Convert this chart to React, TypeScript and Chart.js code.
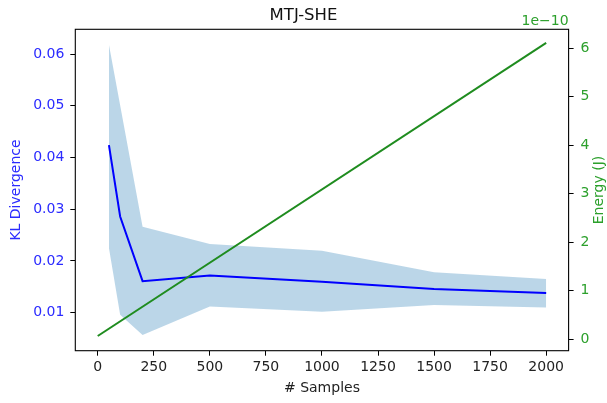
import React, { useEffect, useRef } from "react";
import { Chart, registerables } from "chart.js";

Chart.register(...registerables);

const samples = [50, 100, 200, 500, 1000, 1500, 2000];
const klMean = [0.0424, 0.0286, 0.0161, 0.0172, 0.016, 0.0146, 0.0138];
const klUpper = [0.0618, 0.0501, 0.0266, 0.0233, 0.022, 0.0178, 0.0165];
const klLower = [0.0225, 0.0096, 0.0057, 0.0112, 0.0102, 0.0115, 0.011];

const energySamples = [0, 2000];
const energyJ = [0.068e-10, 6.11e-10];

const xTicks = [0, 250, 500, 750, 1000, 1250, 1500, 1750, 2000];
const klTicks = [0.01, 0.02, 0.03, 0.04, 0.05, 0.06];
const energyTicks = [0, 1e-10, 2e-10, 3e-10, 4e-10, 5e-10, 6e-10];

const FONT = "'DejaVu Sans', sans-serif";
const BLUE = "#0000ff";
const BLUE_TXT = "#2b2bff";
const GREEN_LINE = "#1f8c1f";
const GREEN_TXT = "#2ca02c";

const framePlugin = {
  id: "frame",
  afterDraw(chart: any) {
    const { ctx, chartArea } = chart;
    ctx.save();
    ctx.strokeStyle = "#000";
    ctx.lineWidth = 1.1;
    ctx.strokeRect(chartArea.left, chartArea.top, chartArea.right - chartArea.left, chartArea.bottom - chartArea.top);
    ctx.fillStyle = GREEN_TXT;
    ctx.font = `14px ${FONT}`;
    ctx.textAlign = "right";
    ctx.textBaseline = "alphabetic";
    ctx.fillText("1e\u221210", chartArea.right, 25);
    ctx.translate(599, (chartArea.top + chartArea.bottom) / 2);
    ctx.rotate(-Math.PI / 2);
    ctx.textAlign = "center";
    ctx.textBaseline = "middle";
    ctx.fillText("Energy (J)", 0, 0);
    ctx.restore();
  },
};

export default function App() {
  const ref = useRef<HTMLCanvasElement | null>(null);
  useEffect(() => {
    if (!ref.current) return;
    const tickGrid = {
      display: true,
      drawOnChartArea: false,
      drawTicks: true,
      tickLength: 5,
      tickColor: "#000",
      tickWidth: 1,
    };
    const chart = new Chart(ref.current, {
      type: "line",
      data: {
        datasets: [
          {
            label: "upper",
            data: samples.map((x, i) => ({ x, y: klUpper[i] })),
            borderWidth: 0,
            borderColor: "rgba(0,0,0,0)",
            pointRadius: 0,
            fill: false,
            yAxisID: "y",
            order: 3,
          },
          {
            label: "lower",
            data: samples.map((x, i) => ({ x, y: klLower[i] })),
            borderWidth: 0,
            borderColor: "rgba(0,0,0,0)",
            backgroundColor: "rgba(31,119,180,0.3)",
            pointRadius: 0,
            fill: "-1",
            yAxisID: "y",
            order: 2,
          },
          {
            label: "KL",
            data: samples.map((x, i) => ({ x, y: klMean[i] })),
            borderWidth: 2,
            borderColor: BLUE,
            pointRadius: 0,
            fill: false,
            yAxisID: "y",
            order: 1,
          },
          {
            label: "Energy",
            data: energySamples.map((x, i) => ({ x, y: energyJ[i] })),
            borderWidth: 2,
            borderColor: GREEN_LINE,
            pointRadius: 0,
            fill: false,
            yAxisID: "y2",
            order: 0,
          },
        ],
      },
      options: {
        responsive: false,
        animation: false,
        devicePixelRatio: 1,
        layout: { padding: 0 },
        elements: { line: { tension: 0 } },
        plugins: {
          legend: { display: false },
          tooltip: { enabled: false },
          title: {
            display: true,
            text: "MTJ-SHE",
            color: "#111",
            font: { family: FONT, size: 16.5, weight: "normal", lineHeight: 1.2 },
            padding: { top: 6, bottom: 3.5 },
          },
        },
        scales: {
          x: {
            type: "linear",
            position: "bottom",
            min: -100,
            max: 2100,
            afterBuildTicks: (s: any) => {
              s.ticks = xTicks.map((v) => ({ value: v }));
            },
            afterFit: (s: any) => {
              s.height = 52.3;
            },
            grid: tickGrid,
            border: { display: false },
            ticks: {
              color: "#222",
              font: { family: FONT, size: 14 },
              padding: 3,
              maxRotation: 0,
              autoSkip: false,
              callback: (v: any) => String(v),
            },
            title: {
              display: true,
              text: "# Samples",
              color: "#222",
              font: { family: FONT, size: 14, lineHeight: 1.2 },
              padding: { top: 0, bottom: 6.6 },
            },
          },
          y: {
            type: "linear",
            position: "left",
            min: 0.00265,
            max: 0.0648,
            afterBuildTicks: (s: any) => {
              s.ticks = klTicks.map((v) => ({ value: v }));
            },
            afterFit: (s: any) => {
              s.width = 75.3;
            },
            grid: tickGrid,
            border: { display: false },
            ticks: {
              color: BLUE_TXT,
              font: { family: FONT, size: 14 },
              padding: 6,
              autoSkip: false,
              callback: (v: any) => Number(v).toFixed(2),
            },
            title: {
              display: true,
              text: "KL Divergence",
              color: BLUE_TXT,
              font: { family: FONT, size: 14, lineHeight: 1.2 },
              padding: { top: 7.6, bottom: 0 },
            },
          },
          y2: {
            type: "linear",
            position: "right",
            min: -0.235e-10,
            max: 6.39e-10,
            afterBuildTicks: (s: any) => {
              s.ticks = energyTicks.map((v) => ({ value: v }));
            },
            afterFit: (s: any) => {
              s.width = 38.4;
            },
            grid: tickGrid,
            border: { display: false },
            ticks: {
              color: GREEN_TXT,
              font: { family: FONT, size: 14 },
              padding: 7,
              autoSkip: false,
              callback: (v: any) => String(Math.round(Number(v) * 1e10)),
            },
            title: { display: false },
          },
        },
      },
      plugins: [framePlugin],
    } as any);
    return () => chart.destroy();
  }, []);
  return (
    <div style={{ position: "absolute", left: 0, top: 0, width: 607, height: 403, background: "#fff" }}>
      <canvas ref={ref} width={607} height={403} />
    </div>
  );
}
